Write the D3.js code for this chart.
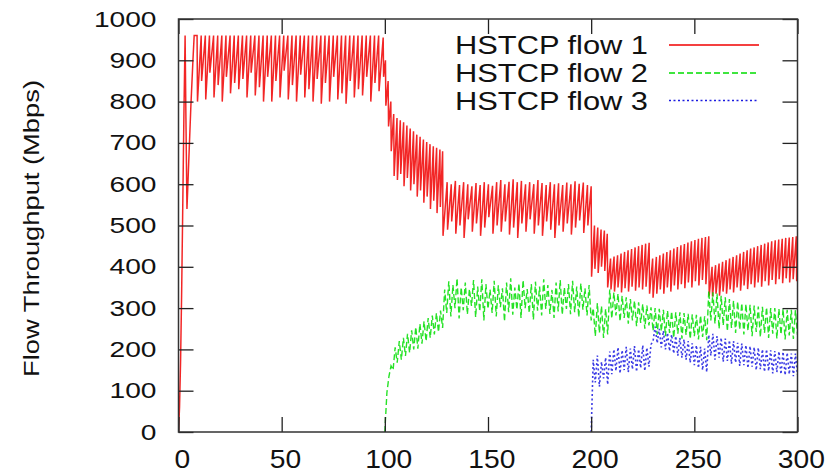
<!DOCTYPE html>
<html>
<head>
<meta charset="utf-8">
<script src="https://cdn.jsdelivr.net/npm/d3@7"></script>
<style>
  html, body { margin: 0; padding: 0; background: #fff; }
  svg { display: block; }
  text { font-family: "Liberation Sans", Arial, sans-serif; fill: #111; }
</style>
</head>
<body>
<svg id="chart" width="837" height="475"></svg>
<script>
// ---------------- DATA ----------------
const seriesNames = ["HSTCP flow 1", "HSTCP flow 2", "HSTCP flow 3"];
const xTicks = [0, 50, 100, 150, 200, 250, 300];
const yTicks = [0, 100, 200, 300, 400, 500, 600, 700, 800, 900, 1000];
const yTitle = "Flow Throughput (Mbps)";

// flow 1: [time (s), throughput (Mbps)] (peaks and troughs)
const flow1 = [
  [0,0],[0.5,60],[1,170],[1.5,330],[2,520],[2.6,760],[3.2,960],[3.6,760],[4.1,540],[5,660],[6,790],[7,900],[7.6,960],
  [9.0,960],[9.2,800],[11.0,960],[11.2,850],[13.0,960],[13.2,805],[15.0,960],[15.2,870],[17.0,960],[17.2,810],
  [19.0,960],[19.2,840],[21.0,960],[21.2,800],[23.0,960],[23.2,860],[25.0,960],[25.2,820],[27.0,960],[27.2,845],
  [29.0,960],[29.2,830],[31.0,960],[31.2,855],[33.0,960],[33.2,810],[35.0,960],[35.2,870],[37.0,960],[37.2,815],
  [39.0,960],[39.2,835],[41.0,960],[41.2,800],[43.0,960],[43.2,860],[45.0,960],[45.2,800],[47.0,960],[47.2,850],
  [49.0,960],[49.2,810],[51.0,960],[51.2,875],[53.0,960],[53.2,805],[55.0,960],[55.2,840],[57.0,960],[57.2,800],
  [59.0,960],[59.2,865],[61.0,960],[61.2,810],[63.0,960],[63.2,830],[65.0,960],[65.2,800],[67.0,960],[67.2,855],
  [69.0,960],[69.2,795],[71.0,960],[71.2,845],[73.0,960],[73.2,800],[75.0,960],[75.2,860],[77.0,960],[77.2,805],
  [79.0,960],[79.2,820],[81.0,960],[81.2,795],[83.0,960],[83.2,850],[85.0,960],[85.2,810],[87.0,960],[87.2,830],
  [89.0,960],[89.2,815],[91.0,960],[91.2,860],[93.0,960],[93.2,800],[95.0,960],[95.2,845],[97.0,960],[97.2,825],
  [99.2,955],[99.4,860],[100.3,900],[100.5,790],[101.6,850],[101.8,740],[102.9,800],[103.1,680],[104.3,770],[104.5,620],
  [105.9,760],[106.1,610],[107.5,755],[107.7,625],[109.1,750],[109.3,595],[110.7,742],[110.9,615],[112.3,735],[112.5,585],
  [113.9,728],[114.1,600],[115.5,720],[115.7,570],[117.1,715],[117.3,585],[118.7,708],[118.9,555],[120.3,702],[120.5,570],
  [121.9,697],[122.1,540],[123.5,692],[123.7,560],[125.1,688],[125.3,530],[126.7,684],[126.9,545],[128.0,680],[128.2,475],
  [130.2,605],[130.4,490],[132.2,600],[132.4,510],[134.2,608],[134.4,480],[136.2,598],[136.4,500],[138.2,605],[138.4,470],
  [140.2,600],[140.4,515],[142.2,595],[142.4,485],[144.2,603],[144.4,505],[146.2,598],[146.4,475],[148.2,605],[148.4,495],
  [150.2,600],[150.4,520],[152.2,596],[152.4,480],[154.2,605],[154.4,500],[156.2,610],[156.4,485],[158.2,600],[158.4,510],
  [160.2,606],[160.4,478],[162.2,612],[162.4,495],[164.2,605],[164.4,470],[166.2,608],[166.4,505],[168.2,600],[168.4,485],
  [170.2,605],[170.4,515],[172.2,600],[172.4,480],[174.2,610],[174.4,500],[176.2,603],[176.4,475],[178.2,598],[178.4,510],
  [180.2,605],[180.4,490],[182.2,600],[182.4,470],[184.2,602],[184.4,500],[186.2,598],[186.4,485],[188.2,604],[188.4,505],
  [190.2,600],[190.4,478],[192.2,607],[192.4,495],[194.2,601],[194.4,512],[196.2,604],[196.4,482],[198.2,598],[198.4,500],
  [200.0,595],
  [200.2,376],[201.6,500],[201.8,395],[203.2,495],[203.4,385],[204.8,490],[205.0,400],[206.4,488],[206.6,390],[207.8,480],[208.0,350],
  [209.4,420],[209.6,345],[211.1,425],[211.3,340],[212.8,428],[213.0,350],[214.5,432],[214.7,338],[216.2,436],[216.4,348],
  [217.9,440],[218.1,340],[219.6,443],[219.8,352],[221.3,447],[221.5,342],[223.0,450],[223.2,350],[224.7,453],[224.9,345],
  [226.4,456],[226.6,352],[228.1,458],[228.3,335],
  [229.8,420],[230.0,325],[231.6,424],[231.8,335],[233.3,428],[233.5,345],[235.0,432],[235.2,335],[236.7,436],[236.9,350],
  [238.4,440],[238.6,340],[240.1,444],[240.3,355],[241.8,448],[242.0,345],[243.5,452],[243.7,358],[245.2,455],[245.4,348],
  [246.9,459],[247.1,362],[248.6,462],[248.8,350],[250.3,465],[250.5,365],[252.0,468],[252.2,355],[253.7,470],[253.9,368],
  [255.4,472],[255.6,358],[257.0,474],[257.2,330],
  [258.6,400],[258.8,328],[260.3,404],[260.5,335],[262.0,408],[262.2,330],[263.7,412],[263.9,340],[265.4,416],[265.6,335],
  [267.1,420],[267.3,345],[268.8,424],[269.0,338],[270.5,428],[270.7,350],[272.2,432],[272.4,342],[273.9,436],[274.1,355],
  [275.6,440],[275.8,346],[277.3,444],[277.5,358],[279.0,447],[279.2,350],[280.7,450],[280.9,362],[282.4,453],[282.6,352],
  [284.1,456],[284.3,365],[285.8,459],[286.0,355],[287.5,462],[287.7,368],[289.2,464],[289.4,358],[290.9,466],[291.1,370],
  [292.6,468],[292.8,360],[294.3,470],[294.5,372],[296.0,471],[296.2,362],[297.7,472],[297.9,370],[299.4,474],[299.6,365],[300,420]
];

// flow 2: one reading per second, from t = 100 s to t = 300 s
const flow2Start = 100;
const flow2 = [
  0,95,135,160,150,205,168,220,175,228, 184,238,192,246,200,254,202,262,214,268,
  220,276,228,282,236,288,242,294,252,345, 288,365,280,356,300,372,275,350,295,362,
  285,346,305,368,278,352,292,370,270,358, 298,345,288,366,280,355,302,348,268,362,
  290,372,284,350,296,360,276,368,300,346, 288,358,272,364,294,352,282,370,298,356,
  286,344,276,362,292,368,284,350,298,358, 285,366,290,352,278,360,296,348,282,356,
  270,300,232,312,240,305,228,298,236,345, 275,338,282,335,268,330,276,326,262,322,
  270,318,256,314,264,310,250,306,258,302, 245,300,236,298,244,296,232,294,240,292,
  228,290,238,290,226,288,235,286,225,285, 232,284,224,282,230,280,222,342,270,338,
  262,335,250,330,258,326,244,322,252,318, 240,316,248,312,236,310,245,308,232,306,
  242,304,230,303,240,302,228,300,238,300, 226,298,236,298,224,296,234,296,225,295,
  235
];

// flow 3: one reading per second, from t = 200 s to t = 300 s
const flow3Start = 200;
const flow3 = [
  0,175,120,185,110,170,130,180,115,195, 140,200,148,205,142,198,150,206,145,202,
  152,208,146,200,155,210,148,204,158,212, 220,255,215,250,205,245,200,240,196,236,
  190,232,185,228,180,224,175,220,168,215, 162,210,155,206,150,202,145,235,185,238,
  175,232,180,228,170,226,172,222,165,220, 168,216,160,214,162,210,155,208,158,205,
  150,204,152,200,146,200,148,198,142,196, 145,195,140,194,138,192,140,190,135,190,
  138
];

// ---------------- CHART ----------------
const svg = d3.select("#chart");
const L = 178.5, R = 797.5, T = 19, B = 432;

const x = d3.scaleLinear().domain([0, 300]).range([L, R]);
const y = d3.scaleLinear().domain([0, 1000]).range([B, T]);

const colors = ["#f00000", "#00dd00", "#1a1ae0"];
const widths = [1.5, 1.4, 1.6];
const dashes = [null, "6,3", "2,2.5"];

svg.append("rect").attr("width", 837).attr("height", 475).attr("fill", "#fff");

svg.append("clipPath").attr("id", "plotclip")
  .append("rect").attr("x", L).attr("y", T).attr("width", R - L).attr("height", B - T);

const line = d3.line().x(d => x(d[0])).y(d => y(d[1]));

const s1 = flow1;
const s2 = flow2.map((v, i) => [flow2Start + i, v]);
const s3 = flow3.map((v, i) => [flow3Start + i, v]);
const allSeries = [s1, s2, s3];

const plot = svg.append("g").attr("clip-path", "url(#plotclip)");
allSeries.forEach((s, i) => {
  plot.append("path")
    .datum(s)
    .attr("d", line)
    .attr("fill", "none")
    .attr("stroke", colors[i])
    .attr("stroke-width", widths[i])
    .attr("stroke-opacity", 0.85)
    .attr("stroke-linejoin", "miter")
    .attr("stroke-dasharray", dashes[i]);
});

// axes (inward ticks on all four sides)
const tickLen = 15;
const gx = svg.append("g").attr("transform", `translate(0,${B})`)
  .call(d3.axisBottom(x).tickValues(xTicks).tickFormat(d3.format("d"))
    .tickSizeInner(-tickLen).tickSizeOuter(0).tickPadding(18));
gx.selectAll("text")
  .style("font-size", "25px")
  .attr("dx", "3")
  .attr("transform", "scale(1.13,1)");

const gxt = svg.append("g").attr("transform", `translate(0,${T})`)
  .call(d3.axisTop(x).tickValues(xTicks).tickSizeInner(-tickLen).tickSizeOuter(0).tickFormat(""));

const gy = svg.append("g").attr("transform", `translate(${L},0)`)
  .call(d3.axisLeft(y).tickValues(yTicks).tickFormat(d3.format("d"))
    .tickSizeInner(-tickLen).tickSizeOuter(0).tickPadding(17.2));
gy.selectAll("text")
  .style("font-size", "22px")
  .attr("transform", "scale(1.28,1)");

const gyr = svg.append("g").attr("transform", `translate(${R},0)`)
  .call(d3.axisRight(y).tickValues(yTicks).tickSizeInner(-tickLen).tickSizeOuter(0).tickFormat(""));

[gx, gxt, gy, gyr].forEach(g => {
  g.select(".domain").remove();
  g.selectAll(".tick line").attr("stroke", "#222").attr("stroke-width", 1.3);
  g.selectAll("text").attr("fill", "#111").style("font-family", "'Liberation Sans', Arial, sans-serif");
});

// frame
svg.append("rect")
  .attr("x", L).attr("y", T).attr("width", R - L).attr("height", B - T)
  .attr("fill", "none").attr("stroke", "#333").attr("stroke-width", 1.5);

// y axis title
svg.append("text")
  .attr("transform", `translate(38.5,228.5) rotate(-90)`)
  .attr("text-anchor", "middle")
  .attr("textLength", 297)
  .attr("lengthAdjust", "spacingAndGlyphs")
  .style("font-size", "22px")
  .text(yTitle);

// legend
const legY = [45, 73, 100.5];
const legBase = [54, 81.5, 109.5];
seriesNames.forEach((name, i) => {
  svg.append("text")
    .attr("x", 455).attr("y", legBase[i])
    .attr("textLength", 193)
    .attr("lengthAdjust", "spacingAndGlyphs")
    .style("font-size", "26px")
    .text(name);
  svg.append("line")
    .attr("x1", 669).attr("x2", 759)
    .attr("y1", legY[i]).attr("y2", legY[i])
    .attr("stroke", colors[i])
    .attr("stroke-width", 1.3)
    .attr("stroke-dasharray", dashes[i]);
});
</script>
</body>
</html>
